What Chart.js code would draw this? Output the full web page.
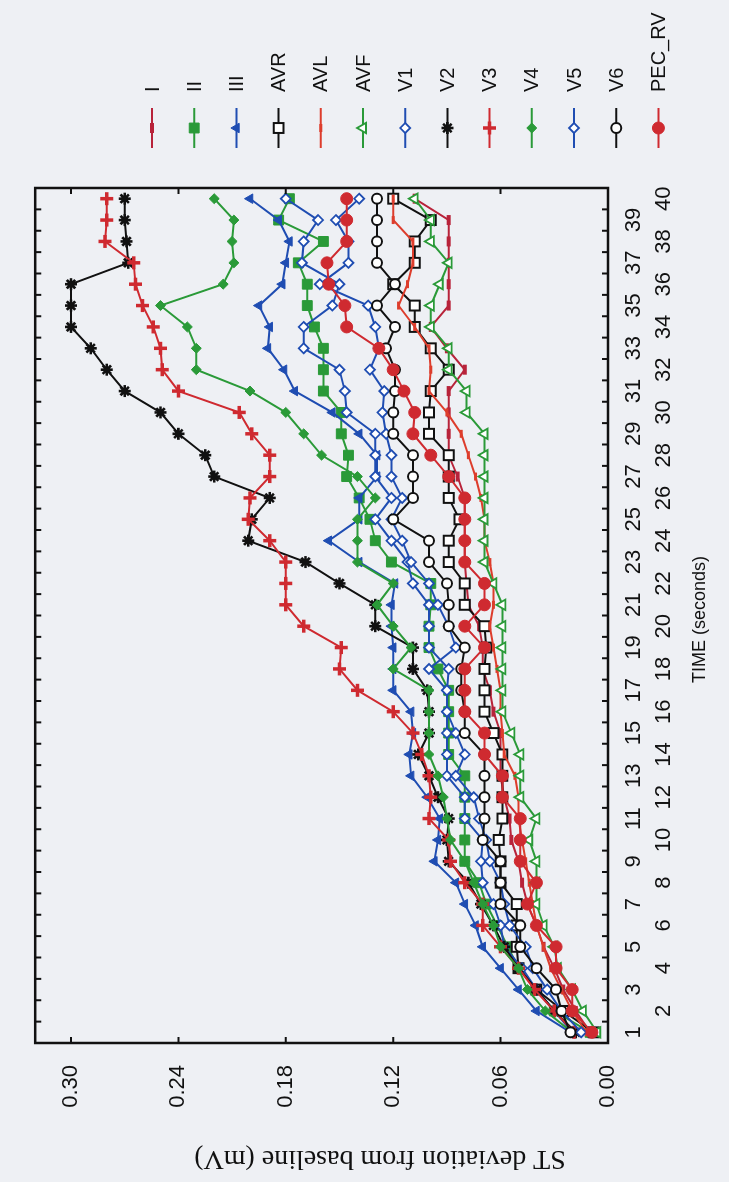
<!DOCTYPE html>
<html>
<head>
<meta charset="utf-8">
<script src="https://cdn.jsdelivr.net/npm/chart.js@4.4.1/dist/chart.umd.min.js"></script>
<style>
  html, body { margin: 0; padding: 0; background: #eef0f4; overflow: hidden; }
  #wrap {
    position: absolute; left: 0; top: 0;
    width: 1182px; height: 729px;
    transform-origin: 0 0;
    transform: translate(0, 1182px) rotate(-90deg);
  }
  canvas { display: block; }
</style>
</head>
<body>
<div id="wrap"><canvas id="c" width="1182" height="729" style="width:1182px;height:729px"></canvas></div>
<script>
// ---------------- data ----------------
const TIME_LABELS = ['1','2','3','4','5','6','7','8','9','10','11','12','13','14','15','16','17','18','19','20',
  '21','22','23','24','25','26','27','28','29','30','31','32','33','34','35','36','37','38','39','40'];
const VALUE_TICKS = [0.00, 0.06, 0.12, 0.18, 0.24, 0.30];
const SERIES_NAMES = ['I','II','III','AVR','AVL','AVF','V1','V2','V3','V4','V5','V6','PEC_RV'];

const LEAD_I = [0.010,0.018,0.025,0.030,0.036,0.040,0.045,0.048,0.050,0.054,
  0.055,0.058,0.060,0.060,0.060,0.064,0.066,0.070,0.070,0.072,
  0.078,0.079,0.080,0.080,0.080,0.080,0.084,0.089,0.089,0.089,
  0.089,0.080,0.090,0.099,0.089,0.089,0.089,0.089,0.089,0.108];
const LEAD_II = [0.010,0.030,0.040,0.050,0.056,0.062,0.068,0.072,0.080,0.080,
  0.080,0.080,0.080,0.089,0.089,0.089,0.089,0.095,0.100,0.100,
  0.099,0.099,0.121,0.130,0.133,0.139,0.146,0.145,0.149,0.149,
  0.159,0.159,0.159,0.164,0.168,0.168,0.173,0.159,0.184,0.178];
const LEAD_III = [0.021,0.040,0.050,0.060,0.070,0.074,0.080,0.085,0.097,0.095,
  0.094,0.101,0.110,0.111,0.109,0.110,0.120,0.120,0.120,0.121,
  0.121,0.119,0.139,0.156,0.139,0.139,0.129,0.129,0.139,0.154,
  0.175,0.181,0.190,0.189,0.195,0.182,0.180,0.178,0.184,0.200];
const LEAD_AVR = [0.008,0.025,0.040,0.050,0.051,0.051,0.051,0.060,0.060,0.061,
  0.059,0.059,0.059,0.059,0.064,0.069,0.069,0.069,0.068,0.069,
  0.080,0.080,0.089,0.089,0.083,0.089,0.089,0.089,0.100,0.100,
  0.099,0.089,0.099,0.108,0.108,0.120,0.108,0.108,0.099,0.120];
const LEAD_AVL = [0.012,0.020,0.026,0.032,0.036,0.040,0.042,0.044,0.046,0.048,
  0.050,0.050,0.052,0.058,0.059,0.060,0.060,0.062,0.064,0.066,
  0.064,0.064,0.066,0.069,0.069,0.071,0.074,0.078,0.082,0.090,
  0.100,0.099,0.100,0.108,0.117,0.112,0.109,0.109,0.120,0.120];
const LEAD_AVF = [0.006,0.014,0.020,0.028,0.030,0.036,0.040,0.040,0.040,0.044,
  0.040,0.049,0.049,0.049,0.054,0.059,0.059,0.059,0.059,0.059,
  0.059,0.064,0.069,0.069,0.069,0.069,0.069,0.069,0.069,0.079,
  0.079,0.089,0.089,0.099,0.099,0.094,0.089,0.099,0.099,0.108];
const LEAD_V1 = [0.020,0.030,0.040,0.048,0.058,0.060,0.064,0.070,0.071,0.070,
  0.080,0.080,0.090,0.090,0.090,0.090,0.090,0.089,0.100,0.100,
  0.100,0.109,0.112,0.121,0.130,0.121,0.130,0.130,0.130,0.146,
  0.147,0.150,0.170,0.170,0.154,0.150,0.171,0.170,0.162,0.180];
const LEAD_V2 = [0.018,0.030,0.040,0.050,0.058,0.064,0.071,0.078,0.089,0.090,
  0.089,0.095,0.100,0.106,0.100,0.100,0.101,0.109,0.109,0.130,
  0.130,0.150,0.169,0.201,0.199,0.189,0.220,0.225,0.240,0.250,
  0.270,0.280,0.289,0.300,0.300,0.300,0.268,0.269,0.270,0.270];
const LEAD_V3 = [0.019,0.030,0.041,0.050,0.060,0.070,0.070,0.080,0.088,0.089,
  0.100,0.099,0.100,0.104,0.109,0.120,0.140,0.150,0.149,0.170,
  0.180,0.180,0.180,0.189,0.201,0.200,0.189,0.189,0.199,0.206,
  0.240,0.249,0.250,0.254,0.260,0.264,0.265,0.281,0.280,0.280];
const LEAD_V4 = [0.020,0.035,0.045,0.050,0.060,0.064,0.070,0.075,0.080,0.088,
  0.090,0.092,0.095,0.100,0.100,0.100,0.100,0.120,0.110,0.120,
  0.129,0.120,0.140,0.140,0.140,0.130,0.140,0.160,0.170,0.180,
  0.200,0.230,0.230,0.235,0.250,0.215,0.209,0.210,0.209,0.220];
const LEAD_V5 = [0.015,0.026,0.034,0.042,0.046,0.055,0.058,0.060,0.066,0.068,
  0.072,0.075,0.085,0.080,0.085,0.090,0.090,0.100,0.085,0.089,
  0.095,0.100,0.110,0.115,0.121,0.115,0.121,0.121,0.124,0.126,
  0.125,0.133,0.128,0.130,0.134,0.161,0.145,0.145,0.152,0.139];
const LEAD_V6 = [0.021,0.026,0.029,0.040,0.049,0.049,0.060,0.060,0.060,0.070,
  0.069,0.069,0.069,0.069,0.080,0.080,0.082,0.082,0.080,0.089,
  0.089,0.090,0.100,0.100,0.120,0.109,0.109,0.109,0.120,0.120,
  0.119,0.119,0.124,0.119,0.129,0.119,0.129,0.129,0.129,0.129];
const LEAD_PEC_RV = [0.009,0.020,0.020,0.029,0.029,0.040,0.045,0.040,0.049,0.049,
  0.049,0.059,0.059,0.069,0.069,0.080,0.080,0.080,0.069,0.080,
  0.069,0.069,0.080,0.080,0.080,0.080,0.089,0.099,0.109,0.108,
  0.114,0.120,0.128,0.146,0.147,0.156,0.157,0.146,0.146,0.146];

const SERIES_VALUES = [LEAD_I, LEAD_II, LEAD_III, LEAD_AVR, LEAD_AVL, LEAD_AVF,
  LEAD_V1, LEAD_V2, LEAD_V3, LEAD_V4, LEAD_V5, LEAD_V6, LEAD_PEC_RV];

// ---------------- styles ----------------
const BG = '#eef0f4';
const RED = '#cf2a30', RED2 = '#dd3d2c', CRIM = '#b8233a';
const GREEN = '#2a9a38', BLUE = '#1f4db2', BLACK = '#111111';
const STYLES = [
  { color: CRIM,  style: 'line',     radius: 5,   bw: 4,   fill: CRIM },
  { color: GREEN, style: 'rect',     radius: 7,   bw: 1,   fill: GREEN },
  { color: BLUE,  style: 'triangle', radius: 5.5, bw: 1,   fill: BLUE },
  { color: BLACK, style: 'rect',     radius: 7,   bw: 2,   fill: '#ffffff' },
  { color: RED2,  style: 'line',     radius: 4,   bw: 3,   fill: RED2 },
  { color: GREEN, style: 'triangle', radius: 6,   bw: 1.8, fill: '#ffffff' },
  { color: BLUE,  style: 'rectRot',  radius: 5,   bw: 1.8, fill: '#ffffff' },
  { color: BLACK, style: 'star',     radius: 6,   bw: 2.6, fill: BLACK },
  { color: RED,   style: 'cross',    radius: 6.5, bw: 3.5, fill: RED },
  { color: GREEN, style: 'rectRot',  radius: 5,   bw: 1,   fill: GREEN },
  { color: BLUE,  style: 'rectRot',  radius: 5,   bw: 1.8, fill: '#ffffff' },
  { color: BLACK, style: 'circle',   radius: 5,   bw: 2,   fill: '#ffffff' },
  { color: RED,   style: 'circle',   radius: 6,   bw: 1,   fill: RED }
];

const N = SERIES_NAMES.length;
const datasets = SERIES_NAMES.map((name, i) => ({
  label: name,
  data: SERIES_VALUES[i],
  borderColor: STYLES[i].color,
  backgroundColor: STYLES[i].fill,
  borderWidth: 2,
  tension: 0,
  pointStyle: STYLES[i].style,
  pointRadius: STYLES[i].radius,
  pointBorderWidth: STYLES[i].bw,
  pointBorderColor: STYLES[i].color,
  pointBackgroundColor: STYLES[i].fill,
  pointHoverRadius: STYLES[i].radius,
  order: N - 1 - i,
  clip: false
}));

const FONT_SANS = '"Liberation Sans", Arial, sans-serif';
const FONT_SERIF = '"Liberation Serif", "Times New Roman", serif';

const bgPlugin = {
  id: 'bg',
  beforeDraw(chart) {
    const c = chart.ctx;
    c.save();
    c.fillStyle = BG;
    c.fillRect(0, 0, chart.width, chart.height);
    c.restore();
  }
};

function drawMarker(c, st, x, y) {
  c.save();
  c.fillStyle = st.fill;
  c.strokeStyle = st.color;
  c.lineWidth = st.bw;
  if (Chart.helpers && Chart.helpers.drawPoint) {
    Chart.helpers.drawPoint(c, { pointStyle: st.style, radius: st.radius, borderWidth: st.bw, rotation: 0 }, x, y);
  } else {
    c.beginPath(); c.arc(x, y, st.radius, 0, Math.PI * 2); c.fill(); c.stroke();
  }
  c.restore();
}

const framePlugin = {
  id: 'frame',
  afterDraw(chart) {
    const c = chart.ctx;
    const { left, right, top, bottom } = chart.chartArea;
    const xs = chart.scales.x, ys = chart.scales.y;
    c.save();
    c.strokeStyle = BLACK;
    c.lineWidth = 2.5;
    c.strokeRect(left, top, right - left, bottom - top);
    c.lineWidth = 2;
    const TL = 6;
    // time tick marks at category boundaries (inside, bottom & top)
    for (let i = 0; i < TIME_LABELS.length - 1; i++) {
      const px = xs.getPixelForValue(i + 0.5);
      c.beginPath();
      c.moveTo(px, bottom); c.lineTo(px, bottom - TL);
      c.moveTo(px, top); c.lineTo(px, top + TL);
      c.stroke();
    }
    // value tick marks (inside, left & right)
    VALUE_TICKS.forEach(v => {
      if (v === 0) return;
      const py = ys.getPixelForValue(v);
      c.beginPath();
      c.moveTo(left, py); c.lineTo(left + TL, py);
      c.moveTo(right, py); c.lineTo(right - TL, py);
      c.stroke();
    });

    // axis titles
    c.fillStyle = BLACK;
    c.textAlign = 'center';
    c.textBaseline = 'middle';
    c.font = '18px ' + FONT_SANS;
    c.fillText('TIME (seconds)', (left + right) / 2 - 4, 700);
    c.save();
    c.translate(24, 380);
    c.rotate(-Math.PI / 2);
    c.font = '28px ' + FONT_SERIF;
    c.fillText('ST deviation from baseline (mV)', 0, 0);
    c.restore();

    // legend
    const lx0 = 1034, lx1 = 1074, tx = 1090, y0 = 152, dy = 42.2;
    SERIES_NAMES.forEach((name, i) => {
      const y = y0 + i * dy;
      const st = STYLES[i];
      c.save();
      c.strokeStyle = st.color;
      c.lineWidth = 2;
      c.beginPath(); c.moveTo(lx0, y); c.lineTo(lx1, y); c.stroke();
      c.restore();
      drawMarker(c, st, (lx0 + lx1) / 2, y);
      c.fillStyle = BLACK;
      c.textAlign = 'left';
      c.textBaseline = 'middle';
      c.font = '20px ' + FONT_SANS;
      c.fillText(name, tx, y + 1);
    });
    c.restore();
  }
};

new Chart(document.getElementById('c').getContext('2d'), {
  type: 'line',
  data: { labels: TIME_LABELS, datasets },
  options: {
    responsive: false,
    animation: false,
    devicePixelRatio: 1,
    layout: { padding: { left: 0, right: 188, top: 8, bottom: 0 } },
    plugins: { legend: { display: false }, tooltip: { enabled: false }, title: { display: false } },
    scales: {
      x: {
        type: 'category',
        offset: true,
        grid: { display: false, drawTicks: false },
        border: { display: false },
        ticks: {
          autoSkip: false, maxRotation: 0, minRotation: 0, padding: 11,
          color: BLACK,
          font: { family: FONT_SANS, size: 22, lineHeight: 30 / 22 },
          callback: function (val, idx) {
            const lab = this.getLabelForValue(val);
            return idx % 2 === 0 ? lab : ['', lab];
          }
        },
        afterFit: s => { s.height = 121; }
      },
      y: {
        type: 'linear',
        min: 0, max: 0.32,
        grid: { display: false, drawTicks: false },
        border: { display: false },
        ticks: {
          padding: 22, color: BLACK,
          font: { family: FONT_SANS, size: 22 },
          callback: v => v.toFixed(2)
        },
        afterBuildTicks: s => { s.ticks = VALUE_TICKS.map(v => ({ value: v })); },
        afterFit: s => { s.width = 139; }
      }
    }
  },
  plugins: [bgPlugin, framePlugin]
});
</script>
</body>
</html>
